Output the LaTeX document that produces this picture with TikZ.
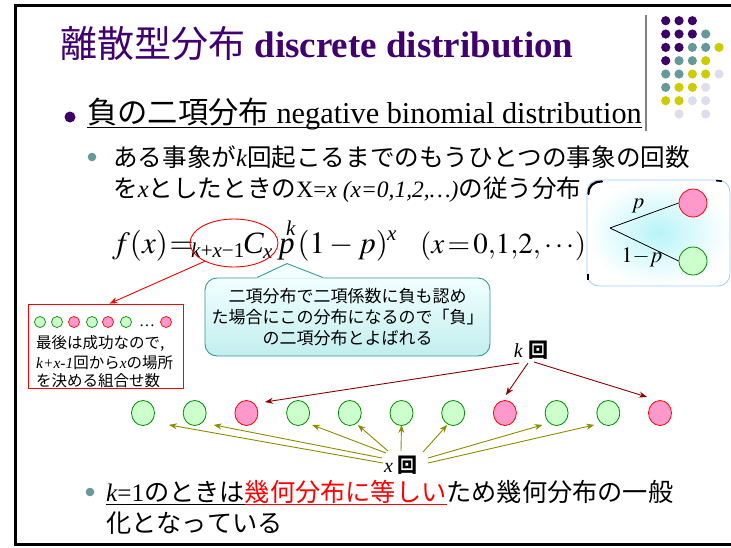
\documentclass[tikz,border=0pt]{standalone}
\usepackage{mathptmx}
\usepackage[no-math]{fontspec}
\setmainfont{Liberation Serif}
\newfontfamily\jp[Kerning=Off]{Noto Sans CJK JP}
\usetikzlibrary{shapes.geometric,arrows.meta,calc}
\definecolor{tpurple}{HTML}{400070}
\definecolor{dpurple}{HTML}{3C0066}
\definecolor{dteal}{HTML}{669999}
\definecolor{dyellow}{HTML}{CCCC00}
\definecolor{dlav}{HTML}{DDDDEE}
\definecolor{gfill}{HTML}{CCFFCC}
\definecolor{gline}{HTML}{008800}
\definecolor{pfill}{HTML}{FF99CC}
\definecolor{pline}{HTML}{FF0000}
\definecolor{kred}{HTML}{8B0000}
\definecolor{xolive}{HTML}{8C8C00}
\definecolor{cborder}{HTML}{339999}
\definecolor{ctop}{HTML}{F2FFFF}
\definecolor{cbot}{HTML}{C2EEEE}
\definecolor{tborder}{HTML}{99CCFF}
\definecolor{tglow}{HTML}{B8F4F8}
\newcommand\myul[2]{\setbox0=\hbox{#2}\rlap{\rule[-#1]{\wd0}{1.2pt}}\box0}
\newcommand\ik[1]{{\rmfamily\itshape #1}}
\newcommand\lt[1]{{\rmfamily #1}}
\begin{document}
\begin{tikzpicture}[x=1pt,y=-1pt,
  gball/.style={ellipse,draw=gline,fill=gfill,line width=0.8pt,inner sep=0pt,minimum width=23pt,minimum height=25pt},
  pball/.style={gball,draw=pline,fill=pfill},
  sgball/.style={circle,draw=gline,fill=gfill,line width=0.7pt,inner sep=0pt,minimum size=11pt},
  spball/.style={sgball,draw=pline,fill=pfill},
  tgball/.style={circle,draw=gline,fill=gfill,line width=0.8pt,inner sep=0pt,minimum size=28pt},
  tpball/.style={tgball,draw=pline,fill=pfill},
  karrow/.style={-{Stealth[length=8pt,width=6pt]},draw=kred,line width=0.9pt},
  xarrow/.style={-{Stealth[length=8pt,width=6pt]},draw=xolive,line width=0.9pt},
  redarrow/.style={-{Stealth[length=8pt,width=6pt]},draw=red,line width=0.9pt},
  txt/.style={anchor=base west,inner sep=0pt},
  fbig/.style={txt,font=\fontsize{31}{36}\selectfont},
  fsmall/.style={txt,font=\fontsize{21}{24}\selectfont\itshape},
]
\useasboundingbox (0,0) rectangle (731,547);
% frame
\draw[line width=3pt] (731,5) -- (15,5) -- (15,544) -- (731,544);
% separator and dots
\draw[line width=1.4pt,black!50] (646,15) -- (646,131);
\foreach \c/\r/\col in {
  1/1/dpurple,2/1/dpurple,3/1/dpurple,
  1/2/dpurple,2/2/dpurple,3/2/dpurple,4/2/dteal,
  1/3/dpurple,2/3/dpurple,3/3/dteal,4/3/dteal,5/3/dyellow,
  1/4/dpurple,2/4/dteal,3/4/dteal,4/4/dyellow,
  1/5/dteal,2/5/dteal,3/5/dyellow,4/5/dyellow,5/5/dlav,
  1/6/dteal,2/6/dyellow,3/6/dyellow,4/6/dlav,
  1/7/dyellow,2/7/dyellow,3/7/dlav,4/7/dlav,
  2/8/dlav,4/8/dlav}
  \fill[\col] ({665.7+13.33*(\c-1)},{20.7+13.33*(\r-1)}) circle[radius=4.6pt];
% title
\node[txt,text=tpurple,font=\fontsize{37}{40}\selectfont] (title) at (60,57)
  {{\jp 離散型分布} \textbf{discrete distribution}};
% bullet 1
\fill[dpurple] (70,117) circle[radius=5.5pt];
\node[txt,font=\fontsize{30.3}{36}\selectfont] (b1) at (87,123)
  {\myul{5pt}{{\jp 負の二項分布} negative binomial distribution}};
% bullet 2
\fill[dteal] (92,157) circle[radius=4.3pt];
\node[txt,font=\jp\fontsize{24.6}{28}\selectfont] (b2a) at (113,166)
  {ある事象が\ik{k}回起こるまでのもうひとつの事象の回数};
\node[txt,font=\jp\fontsize{24.6}{28}\selectfont] (b2b) at (113,197)
  {を\ik{x}としたときの{\rmfamily\fontsize{23.5}{28}\selectfont X=\textit{x} \textit{(x=0,1,2,\dots)}}の従う分布};
% formula (pieces)
\node[fbig] (fa) at (112,253) {$f(x)\mkern-3mu=$};
\node[fsmall,font=\fontsize{21}{24}\selectfont] (fb) at (191,257) {\textit{k}+\textit{x}\textminus1};
\node[fbig] (fc) at (243,253) {\textit{C}};
\node[fsmall] (fd) at (263,258) {x};
\node[fbig] (fe) at (279,253) {\textit{p}};
\node[fsmall] (ff) at (286,235) {k};
\node[fbig] (fg) at (297.5,253) {$(1-p)$};
\node[fsmall] (fh) at (387,240) {x};
\node[fbig,font=\fontsize{29}{36}\selectfont] (fi) at (420,253) {$(x\mkern2mu\mathord{=}\mkern2mu0{,}1{,}2{,}\cdots)$};
\node[ellipse,draw=red,line width=0.9pt,minimum width=88pt,minimum height=48pt] (ell) at (234,243) {};
% red box
\node[draw=red,line width=0.9pt,minimum width=155pt,minimum height=84pt,inner sep=0pt] (rbox) at (105.5,346) {};
\draw[redarrow] (ell.212) -- ($(rbox.north west)+(82,0)$);
\node[sgball] (s1) at (40,322) {};
\node[sgball] (s2) at (57,322) {};
\node[spball] (s3) at (74,322) {};
\node[sgball] (s4) at (92,322) {};
\node[spball] (s5) at (108,322) {};
\node[sgball] (s6) at (126,322) {};
\node[anchor=base,inner sep=0pt,font=\fontsize{16}{16}\selectfont] (sdots) at (147,326) {\dots};
\node[spball] (s7) at (166,322) {};
\node[txt,font=\jp\fontsize{15.5}{19}\selectfont] (r1) at (36,348) {最後は成功なので,};
\node[txt,font=\jp\fontsize{15.5}{19}\selectfont] (r2) at (36,368) {\ik{k+x-1}回から\ik{x}の場所};
\node[txt,font=\jp\fontsize{15.5}{19}\selectfont] (r3) at (36,386) {を決める組合せ数};
% callout
\node[draw=cborder,line width=0.9pt,rounded corners=12pt,top color=ctop,bottom color=cbot,
  minimum width=285pt,minimum height=78pt,inner sep=0pt,align=center,
  font=\jp\fontsize{17}{21}\selectfont] (cl) at (347.5,317)
  {二項分布で二項係数に負も認め\\た場合にこの分布になるので「負」\\の二項分布とよばれる};
\fill[ctop] ($(cl.north)+(-91.5,1)$) -- ($(cl.north)+(-60.5,-14)$) -- ($(cl.north)+(-23.5,1)$) -- cycle;
\draw[cborder,line width=0.9pt] ($(cl.north)+(-90.5,0)$) -- ($(cl.north)+(-60.5,-14)$) -- ($(cl.north)+(-24.5,0)$);
% tree box
\node[draw=tborder,line width=0.8pt,rounded corners=12pt,inner color=tglow,outer color=white,
  minimum width=143pt,minimum height=106pt,inner sep=0pt] (tb) at (658.5,233) {};
\draw[line width=2.2pt,line cap=round] (588.5,194) .. controls (588.5,186) and (593,181.5) .. (602,181.5);
\draw[line width=1.6pt] (716,180.6) -- (722,181.2);
\draw[line width=1.6pt] (588.2,274) -- (588.2,280);
\coordinate (root) at (610,228);
\node[tpball] (tp) at (693,203) {};
\node[tgball] (tq) at (693,261) {};
\draw[line width=0.8pt] (root) -- (tp.west);
\draw[line width=0.8pt] (root) -- (tq.west);
\node[inner sep=0pt,font=\fontsize{22}{22}\selectfont] (lp) at (638,206) {$p$};
\node[inner sep=0pt,font=\fontsize{22}{22}\selectfont] (lq) at (642,257) {$1{-}p$};
% row of trials
\foreach \i/\s in {1/gball,2/gball,3/pball,4/gball,5/gball,6/gball,7/gball,8/pball,9/gball,10/gball,11/pball}
  \node[\s] (c\i) at ({143+51.7*(\i-1)},413) {};
\node[inner sep=0pt,font=\fontsize{20}{20}\selectfont] (kl) at (531,350) {\textit{k} {\jp\bfseries 回}};
\node[inner sep=0pt,font=\fontsize{20}{20}\selectfont] (xl) at (401,465) {\textit{x} {\jp\bfseries 回}};
\draw[karrow] ($(kl)+(-12,13)$) -- ($(c3)+(18.6,-11)$);
\draw[karrow] ($(kl)+(-3,13)$) -- ($(c8)+(1,-18)$);
\draw[karrow] ($(kl)+(3,12)$) -- ($(c11)+(-13,-16)$);
\draw[xarrow] ($(xl)+(-18,-2)$) -- ($(c1.south)+(26,-1)$);
\draw[xarrow] ($(xl)+(-19,-7)$) -- ($(c2.south)+(19,-1)$);
\draw[xarrow] ($(xl)+(-15,-12)$) -- ($(c4.south)+(14,-1)$);
\draw[xarrow] ($(xl)+(-13,-14)$) -- ($(c5.south)+(8,-1)$);
\draw[xarrow] ($(xl)+(0,-14)$) -- ($(c6.south)+(0,-1)$);
\draw[xarrow] ($(xl)+(22,-13)$) -- ($(c7.south)+(-6,-1)$);
\draw[xarrow] ($(xl)+(27,-7)$) -- ($(c9.south)+(-14,-1)$);
\draw[xarrow] ($(xl)+(27,-2)$) -- ($(c10.south)+(-14,-1)$);
% bullet 3
\fill[dteal] (90,492) circle[radius=4.3pt];
\node[txt,font=\jp\fontsize{25.2}{30}\selectfont] (b3a) at (106,501)
  {\myul{4pt}{\ik{k}\lt{=1}のときは}{\color{red}\myul{4pt}{幾何分布に等しい}}ため幾何分布の一般};
\node[txt,font=\jp\fontsize{25.2}{30}\selectfont] (b3b) at (106,532) {化となっている};
\end{tikzpicture}
\end{document}
